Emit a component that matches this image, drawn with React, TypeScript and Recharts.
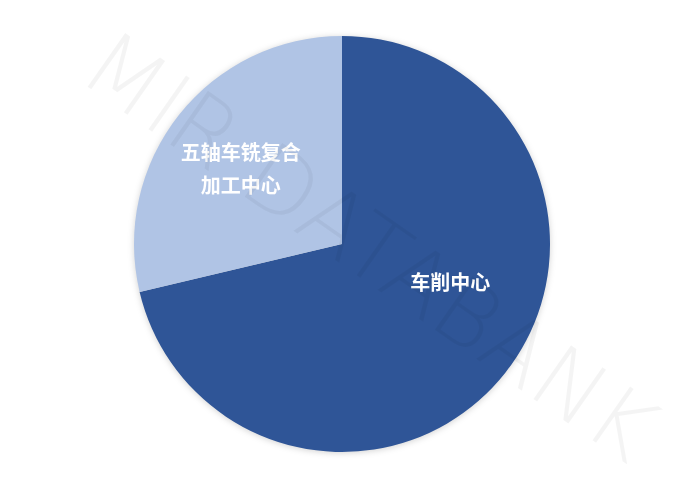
import React from "react";
import { PieChart, Pie, Cell } from "recharts";

const categories = ["车削中心", "五轴车铣复合\n加工中心"];
const shares = [71.3, 28.7];
const COLORS = ["#2F5597", "#B0C4E5"];

// label placement in polar terms: degrees (ccw from east), fraction of radius
const LABEL_POS = [
  { angle: -19, r: 0.55 },
  { angle: 143, r: 0.61 },
];

const data = categories.map((name, i) => ({ name, value: shares[i] }));

const RAD = Math.PI / 180;

const renderLabel = (props: any) => {
  const { cx, cy, outerRadius, index, name } = props;
  const pos = LABEL_POS[index];
  const x = cx + outerRadius * pos.r * Math.cos(pos.angle * RAD);
  const y = cy - outerRadius * pos.r * Math.sin(pos.angle * RAD);
  const lines = String(name).split("\n");
  const lh = 33;
  const y0 = y - ((lines.length - 1) * lh) / 2;
  return (
    <text
      x={x}
      y={y0}
      fill="#fff"
      textAnchor="middle"
      dominantBaseline="central"
      fontSize={20}
      fontWeight={700}
      fontFamily='"Noto Sans CJK SC", sans-serif'
    >
      {lines.map((l, i) => (
        <tspan key={i} x={x} y={y0 + i * lh}>
          {l}
        </tspan>
      ))}
    </text>
  );
};

export default function App() {
  return (
    <div style={{ position: "absolute", left: 0, top: 0, width: 676, height: 477, background: "#fff" }}>
      <div style={{ position: "absolute", left: 0, top: 0, filter: "drop-shadow(0 1px 3px rgba(0,0,0,0.18))" }}>
        <PieChart width={676} height={477} margin={{ top: 0, right: 0, bottom: 0, left: 0 }}>
          <Pie
            data={data}
            dataKey="value"
            nameKey="name"
            cx={342}
            cy={244}
            outerRadius={208}
            startAngle={90}
            endAngle={-270}
            stroke="none"
            label={renderLabel}
            labelLine={false}
            isAnimationActive={false}
          >
            {data.map((_d, i) => (
              <Cell key={`c-${i}`} fill={COLORS[i]} />
            ))}
          </Pie>
        </PieChart>
      </div>
      {/* faint watermark */}
      <svg width={676} height={477} style={{ position: "absolute", left: 0, top: 0, pointerEvents: "none" }}>
        <text
          x={370}
          y={246}
          textAnchor="middle"
          dominantBaseline="central"
          fontSize={90}
          fontWeight={200}
          fontFamily='"DejaVu Sans", sans-serif'
          fill="#000"
          fillOpacity={0.045}
          transform="rotate(35 370 246)"
        >
          MIR DATABANK
        </text>
      </svg>
    </div>
  );
}
